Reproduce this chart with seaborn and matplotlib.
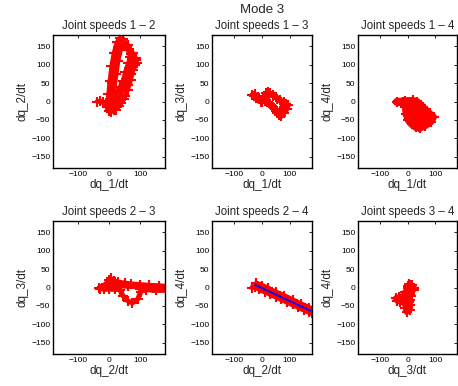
import matplotlib
matplotlib.use("Agg")
import matplotlib.pyplot as plt
import seaborn as sns

# joint speed 1 vs 2
j12_x = [-38, -20, -8, 0, 8, 22, 38, 52, 62, 72, 85, 88, 78, 62, 45,
         35, 25, 15, 8, 2, -2, -4, 2, 12, 28, 42, 55, 65, 75, 72,
         58, 42, 30, 22, 16, 10, 6, 4, 10, 20, 35, 45, 52, 62, 68,
         60, 48, 38, 30, 24, 18, 12, 5, -10, -30, -5, 15, 32, 48, 60,
         70, 78, 90, 86]
j12_y = [0, -2, -15, -25, -28, -22, -5, 15, 45, 75, 100, 112, 130, 152, 168,
         172, 160, 130, 95, 55, 20, -5, -22, -18, 0, 28, 60, 90, 110, 128,
         150, 162, 148, 120, 85, 50, 15, -10, -10, 15, 40, 55, 80, 105, 120,
         140, 155, 140, 110, 75, 40, 10, -8, -3, 2, -10, -22, -12, 8, 30,
         58, 85, 105, 118]

# joint speed 1 vs 3
j13_x = [-35, -25, -15, -5, 5, 15, 22, 30, 40, 52, 65, 80, 95, 90, 78,
         70, 62, 50, 38, 28, 18, 10, 0, -12, -28, -20, -5, 10, 25, 40,
         55, 70, 85, 80, 68, 55, 45, 35, 25]
j13_y = [18, 20, 12, 5, 8, 22, 26, 22, 18, 12, 5, -2, -10, -20, -32,
         -40, -36, -25, -15, -8, -2, 2, 0, 8, 15, 10, 0, 10, 20, 15,
         8, 0, -8, -15, -25, -30, -20, -12, -5]

# joint speed 1 vs 4
j14_x = [-40, -10, 20, 35, 50, 65, 80, 95, 85, 65, 45, 30, 15, 2, -5,
         -8, -15, -40, 0, 30, 5, 55, 2, 75, 10, 85, 25, 60, 40, 20,
         45, 15, 70]
j14_y = [0, 2, 3, 0, -10, -22, -32, -42, -55, -65, -72, -70, -62, -50, -35,
         -15, -2, -2, -5, -5, -20, -15, -35, -30, -50, -45, -62, -60, -68, -10,
         -40, -25, -50]

# joint speed 2 vs 3
j23_x = [-32, -10, 0, 5, 15, 30, 50, 70, 100, 130, 160, 185, 185, 150, 120,
         100, 102, 92, 75, 60, 45, 34, 20, 0, -15, -30, -10, 20, 60, 100,
         140, 185]
j23_y = [0, 5, 20, 25, 18, 15, 12, 10, 8, 6, 5, 3, -8, -8, -6,
         -5, -12, -32, -42, -36, -22, -6, -5, -5, -5, -3, 10, 5, 3, 2,
         0, -2]

# joint speed 2 vs 4
j24_x = [-35, -25, -10, 10, 30, 50, 70, 90, 110, 130, 150, 170, 180, 170, 140,
         110, 80, 50, 20, 0, -20]
j24_y = [0, 2, -4, -11, -18, -25, -32, -39, -46, -53, -60, -67, -70, -55, -45,
         -34, -23, -13, -2, 5, 11]
fit_x = [-25, 175]
fit_y = [7, -63]

# joint speed 3 vs 4
j34_x = [6, 15, 25, 22, 12, 5, 0, -5, -15, -30, -43, -38, -28, -12, -6,
         -8, -3, 9, 10, 8, 11, 10, 2, 0, 14, 20, 0, -30, 0, -10, 4]
j34_y = [9, 6, -2, -6, -8, -10, -15, -20, -22, -25, -29, -36, -39, -38, -45,
         -55, -67, -60, -48, -33, -22, -10, 0, 5, 6, -2, -30, -32, -50, -12, -40]

W, H = 458, 386
cols = [(53, 165), (212, 312), (358, 457)]
rows = [(35, 168), (221, 354)]

panels = [
    (j12_x, j12_y, "dq_1/dt", "dq_2/dt", "Joint speeds 1 \u2013 2", 0, 0, 3.0),
    (j13_x, j13_y, "dq_1/dt", "dq_3/dt", "Joint speeds 1 \u2013 3", 0, 1, 3.5),
    (j14_x, j14_y, "dq_1/dt", "dq_4/dt", "Joint speeds 1 \u2013 4", 0, 2, 5.0),
    (j23_x, j23_y, "dq_2/dt", "dq_3/dt", "Joint speeds 2 \u2013 3", 1, 0, 3.5),
    (j24_x, j24_y, "dq_2/dt", "dq_4/dt", "Joint speeds 2 \u2013 4", 1, 1, 4.0),
    (j34_x, j34_y, "dq_3/dt", "dq_4/dt", "Joint speeds 3 \u2013 4", 1, 2, 4.0),
]

sns.set_style("white")
plt.rcParams["font.family"] = ["Liberation Sans", "DejaVu Sans"]

fig = plt.figure(figsize=(W / 100, H / 100), dpi=100)

for xs, ys, xl, yl, title, r, c, lw in panels:
    x0, x1 = cols[c]
    top, bot = rows[r]
    ax = fig.add_axes([x0 / W, 1 - bot / H, (x1 - x0) / W, (bot - top) / H])
    sns.lineplot(x=xs, y=ys, sort=False, estimator=None, color="red",
                 linewidth=lw, marker="+", markersize=7, markeredgewidth=1.5,
                 markeredgecolor="red", ax=ax)
    if title.endswith("2 \u2013 4"):
        sns.lineplot(x=fit_x, y=fit_y, sort=False, estimator=None,
                     color="blue", linewidth=1.3, ax=ax)
    ax.set_xlim(-180, 180)
    ax.set_ylim(-180, 180)
    ax.set_xticks([-100, 0, 100])
    ax.set_yticks([-150, -100, -50, 0, 50, 100, 150])
    ax.tick_params(direction="in", top=True, right=True, length=2.5,
                   width=0.6, labelsize=6, pad=2, colors="black")
    for sp in ax.spines.values():
        sp.set_color("black")
        sp.set_linewidth(1.0)
    ax.set_xlabel(xl, fontsize=8.5, labelpad=1)
    ax.set_ylabel(yl, fontsize=8.5, labelpad=2)
    ax.set_title(title, fontsize=8.3, pad=4)

fig.text(262 / W, 1 - 10 / H, "Mode 3", ha="center", va="center", fontsize=9.5)

fig.savefig("out.png", dpi=100)
